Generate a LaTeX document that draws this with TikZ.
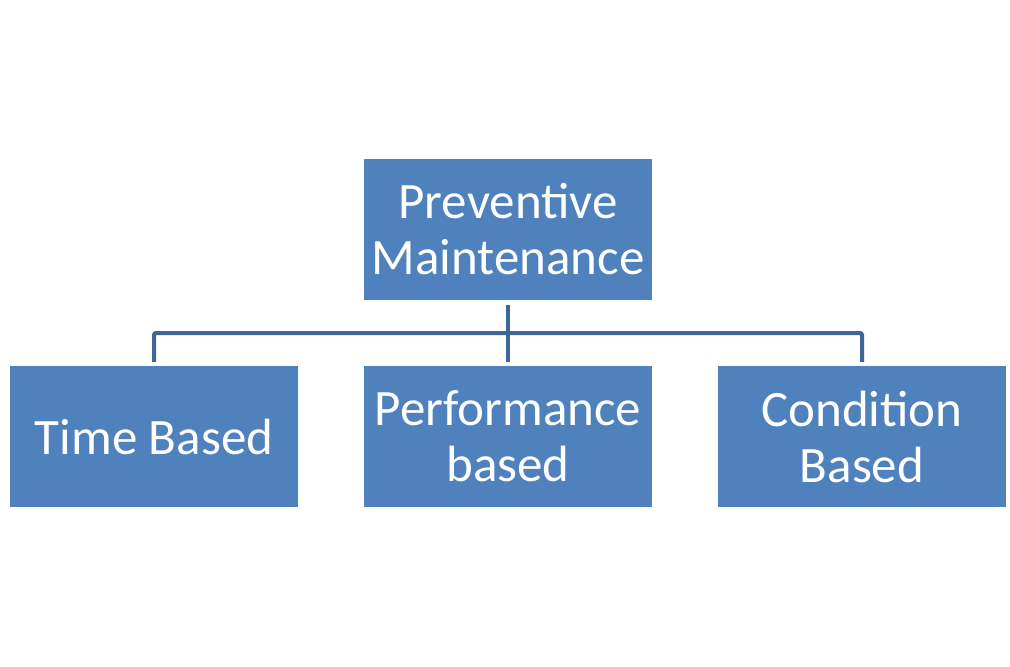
\documentclass[tikz,border=0pt]{standalone}
\usepackage{fontspec}
\setmainfont{Carlito}
\definecolor{boxblue}{RGB}{79,129,189}
\definecolor{lineblue}{RGB}{62,102,150}
\begin{document}
\begin{tikzpicture}[x=1pt,y=-1pt,
  box/.style={fill=boxblue,draw=none,text=white,minimum width=288pt,minimum height=141pt,inner sep=0pt,align=center,font=\fontsize{51}{56}\selectfont},
  conn/.style={draw=lineblue,line width=4pt}]
\useasboundingbox (0,0) rectangle (1010,667);
\node[box] (pm) at (508,229.5) {Preventive\\Maintenance};
\node[box] (tb) at (154,436.5) {Time Based};
\node[box] (pb) at (508,436.5) {Performance\\based};
\node[box] (cb) at (862,436.5) {Condition\\Based};
\coordinate (j) at (508,333);
\draw[conn] ([yshift=-5pt]pm.south) -- ([yshift=4pt]pb.north);
\draw[conn,rounded corners=2pt] ([yshift=4pt]tb.north) |- (j) -| ([yshift=4pt]cb.north);
\end{tikzpicture}
\end{document}
